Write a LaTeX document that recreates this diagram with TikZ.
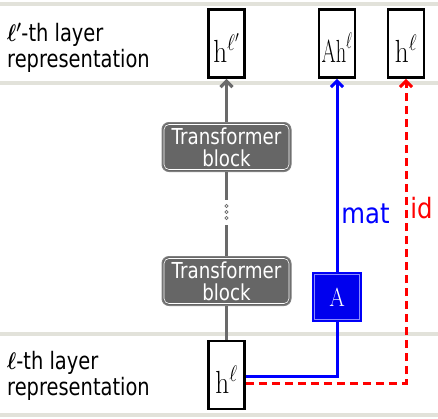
\RequirePackage{fix-cm}
\documentclass[tikz,border=0pt]{standalone}
\usepackage{fontspec}
\usepackage{bm}
\newfontfamily\dv{DejaVu Sans}
\usetikzlibrary{arrows.meta}
\definecolor{band}{HTML}{E2E2DA}
\definecolor{lgray}{HTML}{6A6A6A}
\definecolor{blk}{HTML}{666666}
\definecolor{myblue}{HTML}{0000FF}
\definecolor{boxblue}{HTML}{0000EE}
\definecolor{myred}{HTML}{FF0000}
\newcommand{\sq}[2]{\scalebox{#1}[1]{#2}}
\begin{document}
\begin{tikzpicture}[x=1pt,y=-1pt,
  rep/.style={draw=black, line width=2.8pt, minimum width=36pt, minimum height=68pt, inner sep=0pt, text height=37pt, text depth=0pt, font=\fontsize{32}{32}\selectfont},
  tblock/.style={fill=blk, draw=lgray!85, line width=1pt, rounded corners=7pt, minimum width=129pt, minimum height=49pt, inner sep=0pt, text=white, align=center, font=\dv\fontsize{22}{22}\selectfont},
  abox/.style={fill=boxblue, draw=myblue, line width=1pt, minimum width=49pt, minimum height=49pt, inner sep=0pt, text=white, font=\fontsize{26}{26}\selectfont},
  lab/.style={anchor=west, align=left, inner sep=0pt, font=\dv\fontsize{24}{26}\selectfont},
  conn/.style={draw=lgray, line width=3.2pt},
  bconn/.style={draw=myblue, line width=3pt},
  rconn/.style={draw=myred, line width=3pt, dash pattern=on 8pt off 5pt},
  tip/.style={-{Straight Barb[length=6pt,width=12pt]}},
  bandline/.style={draw=band, line width=4pt}
]
\useasboundingbox (0,0) rectangle (438,418);
\draw[bandline] (0,4) -- (438,4);
\draw[bandline] (0,83) -- (438,83);
\draw[bandline] (0,334) -- (438,334);
\draw[bandline] (0,415) -- (438,415);

\node[lab] (lab1) at (7,48) {\sq{0.81}{$\bm{\ell'}$-th layer}\\\sq{0.81}{representation}};
\node[lab] (lab2) at (7,375.5) {\sq{0.81}{$\bm{\ell}$-th layer}\\\sq{0.81}{representation}};

\node[rep] (t1) at (226.5,43.5) {\sq{0.85}{$\mathrm{h}^{\ell'}$}};
\node[rep] (t2) at (337,43.5) {\sq{0.64}{$\mathrm{Ah}^{\ell}$}};
\node[rep] (t3) at (406,43.5) {\sq{0.85}{$\mathrm{h}^{\ell}$}};
\node[rep] (bot) at (226.5,375) {\sq{0.85}{$\mathrm{h}^{\ell}$}};

\node[tblock] (b1) at (226.5,147) {\sq{0.83}{Transformer}\\\sq{0.83}{block}};
\node[tblock] (b2) at (226.5,281) {\sq{0.83}{Transformer}\\\sq{0.83}{block}};
\foreach \b in {b1,b2}
  \draw[white, line width=0.6pt, rounded corners=5pt] ([shift={(2.5pt,-2.5pt)}]\b.north west) rectangle ([shift={(-2.5pt,2.5pt)}]\b.south east);

\node[abox] (A) at (337,297) {\sq{0.86}{$\mathrm{A}$}};
\draw[white!55!myblue, line width=0.6pt] ([shift={(2.5pt,-2.5pt)}]A.north west) rectangle ([shift={(-2.5pt,2.5pt)}]A.south east);

\node[minimum width=6pt, minimum height=25pt, inner sep=0pt] (dots) at (226.5,212.5) {};
\foreach \yy in {206,212,218}
  \draw[lgray, line width=0.7pt] (226.5,\yy) circle (1.7pt);

\draw[conn] (bot.north) -- (b2.south);
\draw[conn] (b2.north) -- (dots.south);
\draw[conn] (dots.north) -- (b1.south);
\draw[conn, tip] (b1.north) -- (t1.south);

\draw[bconn] ([yshift=-1pt]bot.east) -| (A.south);
\draw[bconn, tip] (A.north) -- (t2.south);
\draw[rconn, tip] ([yshift=-8pt]bot.east) -| (t3.south);

\node[text=myblue, inner sep=0pt, font=\dv\fontsize{28}{28}\selectfont] (mat) at (365.5,213.5) {\sq{0.87}{mat}};
\node[text=myred, inner sep=0pt, font=\dv\fontsize{28}{28}\selectfont] (id) at (421.5,208.5) {\sq{0.87}{id}};
\end{tikzpicture}
\end{document}
